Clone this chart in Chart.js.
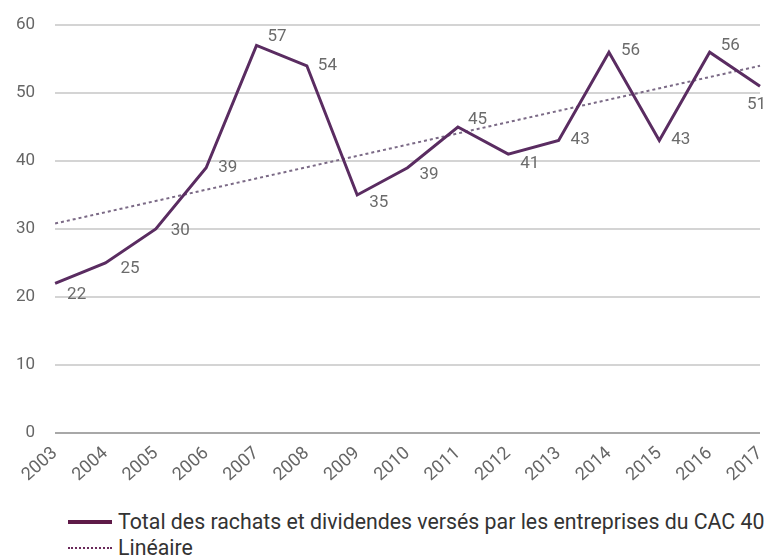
<!DOCTYPE html>
<html>
<head>
<meta charset="utf-8">
<script src="https://cdn.jsdelivr.net/npm/chart.js@4/dist/chart.umd.min.js"></script>
<style>
  html, body { margin: 0; padding: 0; background: #ffffff; }
  #wrap { position: relative; width: 766px; height: 558px; font-family: Roboto, "Noto Sans", sans-serif; }
  #box { position: absolute; left: 0; top: 0; width: 766px; height: 500px; }
  #legend { position: absolute; left: 68px; top: 509px; color: #333333; font-size: 21.3px; line-height: 26px; }
  .row { display: flex; align-items: center; white-space: nowrap; }
  .sw { width: 44px; margin-right: 6px; height: 0; }
  .solid { border-top: 4px solid #5e1a48; }
  .dot { border-top: 2px dotted #6a2a5a; }
</style>
</head>
<body>
<div id="wrap">
  <div id="box"><canvas id="c"></canvas></div>
  <div id="legend">
    <div class="row"><span class="sw solid"></span><span id="l1"></span></div>
    <div class="row"><span class="sw dot"></span><span id="l2"></span></div>
  </div>
</div>
<script>
const years = ['2003','2004','2005','2006','2007','2008','2009','2010','2011','2012','2013','2014','2015','2016','2017'];
const totals = [22, 25, 30, 39, 57, 54, 35, 39, 45, 41, 43, 56, 43, 56, 51];
const trendStart = 30.8;
const trendEnd = 54.0;
const seriesName = 'Total des rachats et dividendes versés par les entreprises du CAC 40';
const trendName = 'Linéaire';
const yTicks = [0, 10, 20, 30, 40, 50, 60];

document.getElementById('l1').textContent = seriesName;
document.getElementById('l2').textContent = trendName;

const trendData = years.map((y, i) => i === 0 ? trendStart : (i === years.length - 1 ? trendEnd : null));

// label placement (pixel offsets from each point)
const labelOffsets = [
  [12, 11], [15, 6], [15, 2], [12, 0], [11, -9], [11, 0], [12, 8], [12, 7],
  [10, -7], [12, 10], [12, -1], [12, -1], [12, -1], [11, -6], [-13, 19]
];

const dataLabels = {
  id: 'dataLabels',
  afterDatasetsDraw(chart) {
    const meta = chart.getDatasetMeta(0);
    const ctx = chart.ctx;
    ctx.save();
    ctx.font = '17px Roboto';
    ctx.fillStyle = '#6b6b6b';
    ctx.textAlign = 'left';
    ctx.textBaseline = 'middle';
    meta.data.forEach((pt, i) => {
      const off = labelOffsets[i];
      ctx.fillText(String(totals[i]), pt.x + off[0], pt.y + off[1]);
    });
    ctx.restore();
  }
};

new Chart(document.getElementById('c'), {
  type: 'line',
  data: {
    labels: years,
    datasets: [
      {
        label: seriesName,
        data: totals,
        borderColor: '#5a2c61',
        borderWidth: 3,
        pointRadius: 0,
        tension: 0,
        borderJoinStyle: 'miter'
      },
      {
        label: trendName,
        data: trendData,
        spanGaps: true,
        borderColor: '#7b6a86',
        borderWidth: 2,
        borderDash: [3, 3],
        pointRadius: 0,
        tension: 0
      }
    ]
  },
  options: {
    responsive: true,
    maintainAspectRatio: false,
    animation: false,
    layout: { padding: { top: 25, right: 6, left: -4, bottom: 4 } },
    plugins: {
      legend: { display: false },
      tooltip: { enabled: false }
    },
    scales: {
      x: {
        offset: false,
        grid: { display: false, drawTicks: false },
        border: { display: false },
        afterFit(axis) { axis.paddingRight = 0; },
        ticks: {
          color: '#666666',
          font: { family: 'Roboto', size: 18 },
          minRotation: 42,
          maxRotation: 42,
          padding: 10,
          autoSkip: false
        }
      },
      y: {
        min: yTicks[0],
        max: yTicks[yTicks.length - 1],
        afterBuildTicks(axis) { axis.ticks = yTicks.map(v => ({ value: v })); },
        afterFit(axis) { axis.paddingTop = 0; axis.paddingBottom = 0; },
        grid: {
          color: (c) => c.tick && c.tick.value === 0 ? '#a8a8a8' : '#d4d4d4',
          lineWidth: 2,
          drawTicks: false
        },
        border: { display: false },
        ticks: {
          color: '#666666',
          font: { family: 'Roboto', size: 17 },
          padding: 20
        }
      }
    }
  },
  plugins: [dataLabels]
});
</script>
</body>
</html>
